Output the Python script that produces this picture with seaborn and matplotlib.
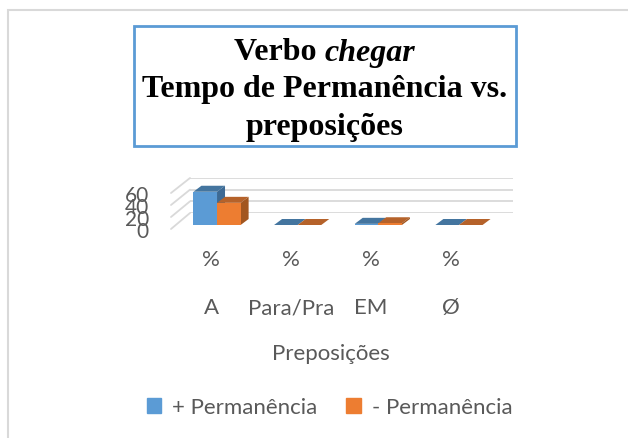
import pandas as pd
import matplotlib
matplotlib.use('Agg')
import matplotlib.pyplot as plt
import seaborn as sns
from matplotlib.patches import Patch, Polygon, Rectangle, ConnectionPatch

# Values
categorias = ['A', 'Para/Pra', 'EM', 'Ø']
mais_perm = [57, 0, 2, 0]
menos_perm = [38, 0, 3, 0]
series = ['+ Permanência', '- Permanência']
yticks = [0, 20, 40, 60]
cores = ['#5b9bd5', '#ed7d31']
cores_topo = ['#44759f', '#b5622a']
cores_lado = ['#3d6a94', '#a2561f']

df = pd.DataFrame({
    'cat': categorias * 2,
    'serie': [series[0]] * 4 + [series[1]] * 4,
    'valor': mais_perm + menos_perm,
})

W, H = 628, 439
texto = '#595959'
sns.set_theme(style='white')
plt.rcParams['font.family'] = ['Lato', 'DejaVu Sans']

fig = plt.figure(figsize=(W / 100, H / 100), dpi=100)


def eixo(left, right, top, bottom):
    a = fig.add_axes([left / W, 1 - bottom / H, (right - left) / W, (bottom - top) / H])
    a.patch.set_alpha(0)
    sns.despine(ax=a, left=True, bottom=True, right=True, top=True)
    return a


# outer chart frame, runs off the picture on the right and bottom
fig.add_artist(Rectangle((8 / W, -0.1), 1.1, 1.1 - 11 / H, transform=fig.transFigure,
                         fill=False, ec='#d9d9d9', lw=1.5))

# back wall with the gridlines
ax_back = eixo(190, 513, 179, 214)
ax_back.set_xlim(0, 1)
ax_back.set_ylim(0, 60)
ax_back.set_yticks(yticks)
ax_back.set_yticklabels([])
ax_back.set_xticks([])
ax_back.tick_params(length=0)
ax_back.grid(axis='y', color='#d9d9d9', lw=1.3)

# front plane: tick labels
ax_front = eixo(171, 491, 194, 230)
ax_front.set_xlim(-0.5, 3.5)
ax_front.set_ylim(0, 60)
ax_front.set_yticks(yticks)
ax_front.set_yticklabels([str(v) for v in yticks], fontsize=15, color=texto)
ax_front.set_xticks(range(4))
ax_front.set_xticklabels(['%\n\n' + c for c in categorias], fontsize=16, color=texto, linespacing=1.25)
ax_front.tick_params(length=0, axis='x', pad=14.5)
ax_front.tick_params(length=0, axis='y', pad=16)
ax_front.set_xlabel('')

# side wall diagonals
for v in yticks:
    fig.add_artist(ConnectionPatch((-0.5, v), (0, v), coordsA=ax_front.transData,
                                   coordsB=ax_back.transData, color='#d9d9d9', lw=1.3))

# bars
ax = eixo(176.7, 499.3, 191, 226)
sns.barplot(data=df, x='cat', y='valor', hue='serie', palette=cores, saturation=1,
            width=0.585, gap=0, legend=False, linewidth=0, ax=ax)
ax.set_xlim(-0.5, 3.5)
ax.set_ylim(0, 60)
ax.set_xticks([])
ax.set_yticks([])
ax.set_xlabel('')
ax.set_ylabel('')

# depth of the bars, in data units
dx = 8 / (323 / 4)
dy = 6 / (35 / 60)
for i, b in enumerate(ax.patches[:8]):
    s = i // 4
    x0, x1 = b.get_x(), b.get_x() + b.get_width()
    h = b.get_height()
    ax.add_patch(Polygon([(x0, h), (x1, h), (x1 + dx, h + dy), (x0 + dx, h + dy)],
                         fc=cores_topo[s], ec='none', clip_on=False, zorder=3 + s))
    ax.add_patch(Polygon([(x1, 0), (x1 + dx, dy), (x1 + dx, h + dy), (x1, h)],
                         fc=cores_lado[s], ec='none', clip_on=False, zorder=3 + s))
    b.set_zorder(3.5 + s)

# title box
fig.add_artist(Rectangle((134 / W, 1 - 147 / H), 382 / W, 120 / H, transform=fig.transFigure,
                         fc='white', ec='#5b9bd5', lw=2))
tfont = dict(family='Liberation Serif', fontsize=23, color='black', ha='center', va='center', weight='bold')
fig.text(325 / W, 1 - 90 / H, 'Tempo de Permanência vs.', **tfont)
fig.text(325 / W, 1 - 128 / H, 'preposições', **tfont)
t1 = fig.text(0, 1 - 53 / H, 'Verbo ', **{**tfont, 'ha': 'left'})
t2 = fig.text(0, 1 - 53 / H, 'chegar', **{**tfont, 'ha': 'left', 'style': 'italic'})
r = fig.canvas.get_renderer()
w1 = t1.get_window_extent(r).width
w2 = t2.get_window_extent(r).width
x0 = 325 - (w1 + w2) / 2
t1.set_x(x0 / W)
t2.set_x((x0 + w1) / W)

# axis title and legend
fig.text(331 / W, 1 - 354 / H, 'Preposições', fontsize=16, color=texto, ha='center', va='center')
fig.legend(handles=[Patch(color=c, label=s) for c, s in zip(cores, series)],
           loc='center', bbox_to_anchor=(329.5 / W, 1 - 408 / H), ncol=2, frameon=False,
           fontsize=16, labelcolor=texto, handlelength=0.65, handleheight=0.65,
           handletextpad=0.5, columnspacing=1.3)

plt.savefig('out.png', dpi=100)
